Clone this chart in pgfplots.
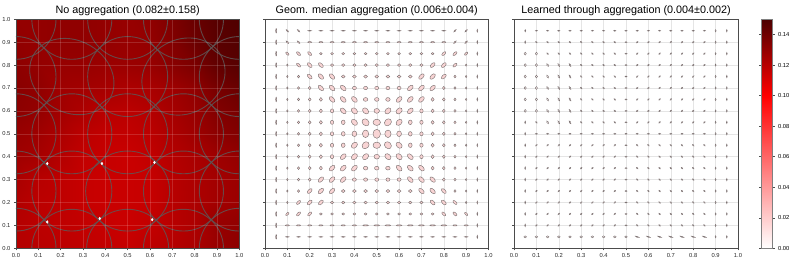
\documentclass[border=0pt]{standalone}
\usepackage{fontspec}
\setmainfont{Liberation Sans}
\usepackage{pgfplots}
\pgfplotsset{compat=1.18}
\pgfdeclareplotmark{nothing}{}
\definecolor{fillpink}{RGB}{248,212,212}
\definecolor{elline}{RGB}{125,115,115}
\definecolor{bigline}{RGB}{95,85,85}
\pgfplotsset{
  every axis title/.style={at={(0.5,1)}, anchor=base, yshift=6pt, inner sep=0pt, font=\fontsize{10.8}{12}\selectfont},
  panel/.style={
    scale only axis, width=223.5pt, height=229pt, anchor=south west,
    xmin=0, xmax=1, ymin=0, ymax=1, enlargelimits=false,
    xtick={0,0.1,0.2,0.3,0.4,0.5,0.6,0.7,0.8,0.9,1},
    ytick={0,0.1,0.2,0.3,0.4,0.5,0.6,0.7,0.8,0.9,1},
    xticklabels={0.0,0.1,0.2,0.3,0.4,0.5,0.6,0.7,0.8,0.9,1.0},
    grid=major, tick pos=left,
    tick align=outside, major tick length=2pt,
    axis line style={black!70, line width=0.6pt},
    every tick/.style={black!70, line width=0.5pt},
    tick label style={font=\fontsize{5.8}{6}\selectfont, text=black!85},
    colormap={wr}{rgb(0cm)=(1,1,1); rgb(10cm)=(1,0,0); rgb(15cm)=(0.3,0,0)},
    point meta min=0, point meta max=0.15,
  },
  ell/.style={only marks, scatter, mark=nothing,
    visualization depends on={value \thisrow{a}\as\ea},
    visualization depends on={value \thisrow{b}\as\eb},
    visualization depends on={value \thisrow{t}\as\et},
    scatter/@pre marker code/.code={\pgfscope\pgftransformrotate{\et}\pgfpathellipse{\pgfpointorigin}{\pgfpoint{\ellscale*\ea pt}{0pt}}{\pgfpoint{0pt}{\ellscale*\eb pt}}\ellpaint\endpgfscope},
    scatter/@post marker code/.code={},
  },
}
\begin{document}
\begin{tikzpicture}[x=1pt,y=1pt]
\path[use as bounding box] (0,0) rectangle (790,261);
\def\ellscale{1}
\def\ellpaint{\pgfsetstrokecolor{bigline}\pgfsetstrokeopacity{0.85}\pgfsetlinewidth{0.9pt}\pgfusepath{stroke}}
\begin{axis}[panel, at={(16pt,12.7pt)}, width=223.3pt,
  title={No aggregation (0.082±0.158)}, axis on top, clip marker paths=true,
  grid style={white, opacity=0.15, line width=0.5pt},
  yticklabels={0.0,0.1,0.2,0.3,0.4,0.5,0.6,0.7,0.8,0.9,1.0}]
\addplot[surf, shader=interp, mesh/cols=11, point meta=explicit] table[row sep=\\, meta=c] {
x y c\\
0 0 0.121\\ 0.1 0 0.120\\ 0.2 0 0.119\\ 0.3 0 0.118\\ 0.4 0 0.117\\ 0.5 0 0.116\\ 0.6 0 0.119\\ 0.7 0 0.121\\ 0.8 0 0.124\\ 0.9 0 0.129\\ 1 0 0.132\\
0 0.1 0.121\\ 0.1 0.1 0.119\\ 0.2 0.1 0.118\\ 0.3 0.1 0.117\\ 0.4 0.1 0.116\\ 0.5 0.1 0.115\\ 0.6 0.1 0.117\\ 0.7 0.1 0.120\\ 0.8 0.1 0.123\\ 0.9 0.1 0.129\\ 1 0.1 0.131\\
0 0.2 0.122\\ 0.1 0.2 0.119\\ 0.2 0.2 0.118\\ 0.3 0.2 0.116\\ 0.4 0.2 0.115\\ 0.5 0.2 0.115\\ 0.6 0.2 0.116\\ 0.7 0.2 0.120\\ 0.8 0.2 0.123\\ 0.9 0.2 0.126\\ 1 0.2 0.128\\
0 0.3 0.124\\ 0.1 0.3 0.120\\ 0.2 0.3 0.118\\ 0.3 0.3 0.116\\ 0.4 0.3 0.115\\ 0.5 0.3 0.115\\ 0.6 0.3 0.116\\ 0.7 0.3 0.120\\ 0.8 0.3 0.123\\ 0.9 0.3 0.126\\ 1 0.3 0.128\\
0 0.4 0.127\\ 0.1 0.4 0.125\\ 0.2 0.4 0.121\\ 0.3 0.4 0.117\\ 0.4 0.4 0.116\\ 0.5 0.4 0.115\\ 0.6 0.4 0.117\\ 0.7 0.4 0.121\\ 0.8 0.4 0.124\\ 0.9 0.4 0.127\\ 1 0.4 0.130\\
0 0.5 0.129\\ 0.1 0.5 0.127\\ 0.2 0.5 0.123\\ 0.3 0.5 0.119\\ 0.4 0.5 0.117\\ 0.5 0.5 0.117\\ 0.6 0.5 0.119\\ 0.7 0.5 0.123\\ 0.8 0.5 0.127\\ 0.9 0.5 0.132\\ 1 0.5 0.135\\
0 0.6 0.132\\ 0.1 0.6 0.130\\ 0.2 0.6 0.126\\ 0.3 0.6 0.123\\ 0.4 0.6 0.120\\ 0.5 0.6 0.119\\ 0.6 0.6 0.121\\ 0.7 0.6 0.125\\ 0.8 0.6 0.129\\ 0.9 0.6 0.135\\ 1 0.6 0.138\\
0 0.7 0.133\\ 0.1 0.7 0.131\\ 0.2 0.7 0.127\\ 0.3 0.7 0.126\\ 0.4 0.7 0.125\\ 0.5 0.7 0.123\\ 0.6 0.7 0.124\\ 0.7 0.7 0.127\\ 0.8 0.7 0.131\\ 0.9 0.7 0.138\\ 1 0.7 0.142\\
0 0.8 0.132\\ 0.1 0.8 0.130\\ 0.2 0.8 0.129\\ 0.3 0.8 0.129\\ 0.4 0.8 0.128\\ 0.5 0.8 0.128\\ 0.6 0.8 0.129\\ 0.7 0.8 0.133\\ 0.8 0.8 0.137\\ 0.9 0.8 0.144\\ 1 0.8 0.147\\
0 0.9 0.131\\ 0.1 0.9 0.130\\ 0.2 0.9 0.131\\ 0.3 0.9 0.131\\ 0.4 0.9 0.130\\ 0.5 0.9 0.129\\ 0.6 0.9 0.130\\ 0.7 0.9 0.135\\ 0.8 0.9 0.141\\ 0.9 0.9 0.146\\ 1 0.9 0.148\\
0 1 0.130\\ 0.1 1 0.130\\ 0.2 1 0.131\\ 0.3 1 0.131\\ 0.4 1 0.130\\ 0.5 1 0.129\\ 0.6 1 0.131\\ 0.7 1 0.136\\ 0.8 1 0.142\\ 0.9 1 0.147\\ 1 1 0.149\\
};
\addplot[ell] table[row sep=\\] {
x y a b t\\
0 0 40 40 0\\ 0.25 0 40 39 0\\ 0.5 0 41 39 0\\ 0.75 0 40 39 0\\ 1 0 40 40 0\\
0 0.25 40 40 0\\ 0.25 0.25 40 40 0\\ 0.5 0.25 42 40 0\\ 0.75 0.25 40 40 0\\ 1 0.25 40 40 0\\
0 0.5 40 40 0\\ 0.25 0.5 40 40 0\\ 0.5 0.5 40 40 0\\ 0.75 0.5 40 40 0\\ 1 0.5 40 40 0\\
0 0.75 40 40 0\\ 0.25 0.75 44 36 -30\\ 0.5 0.75 40 40 0\\ 0.75 0.75 43 37 30\\ 1 0.75 40 40 0\\
0 1 40 40 0\\ 0.25 1 40 40 0\\ 0.5 1 40 40 0\\ 0.75 1 40 40 0\\ 1 1 40 40 0\\
};
\addplot[only marks, mark=diamond*, mark size=1.3pt, white] coordinates {(0.14,0.37) (0.385,0.37) (0.62,0.375) (0.375,0.13) (0.14,0.115) (0.61,0.125)};
\end{axis}
\def\ellscale{1.25}
\def\ellpaint{\pgfsetfillcolor{fillpink}\pgfsetstrokecolor{elline}\pgfsetlinewidth{0.45pt}\pgfusepath{fill,stroke}}
\begin{axis}[panel, at={(265pt,12.7pt)}, title={Geom. median aggregation (0.006±0.004)},
  grid style={black!10, line width=0.5pt}, yticklabels={}]
\addplot[ell] table[row sep=\\] {
x y a b t\\
0.05 0.95 1.8 0.4 90\\ 0.10 0.95 1.3 0.5 -45\\ 0.15 0.95 1.3 0.5 -45\\ 0.20 0.95 1.4 0.4 0\\ 0.25 0.95 1.4 0.4 0\\ 0.30 0.95 1.4 0.4 0\\ 0.35 0.95 1.4 0.4 0\\ 0.40 0.95 1.4 0.4 0\\ 0.45 0.95 1.4 0.4 0\\ 0.50 0.95 1.4 0.4 0\\ 0.55 0.95 1.4 0.4 0\\ 0.60 0.95 1.4 0.4 0\\ 0.65 0.95 1.4 0.4 0\\ 0.70 0.95 1.4 0.4 0\\ 0.75 0.95 1.4 0.4 0\\ 0.80 0.95 1.4 0.4 0\\ 0.85 0.95 1.3 0.5 45\\ 0.90 0.95 1.3 0.5 45\\ 0.95 0.95 1.2 0.4 90\\
0.05 0.90 1.8 0.4 90\\ 0.10 0.90 1.4 0.6 -45\\ 0.15 0.90 1.4 0.6 -45\\ 0.20 0.90 1.6 0.5 0\\ 0.25 0.90 1.6 0.5 0\\ 0.30 0.90 1.6 0.5 0\\ 0.35 0.90 1.6 0.5 0\\ 0.40 0.90 1.6 0.5 0\\ 0.45 0.90 1.6 0.5 0\\ 0.50 0.90 1.6 0.5 0\\ 0.55 0.90 1.6 0.5 0\\ 0.60 0.90 1.6 0.5 0\\ 0.65 0.90 1.6 0.5 0\\ 0.70 0.90 1.6 0.5 0\\ 0.75 0.90 1.6 0.5 0\\ 0.80 0.90 1.6 0.5 0\\ 0.85 0.90 1.4 0.6 45\\ 0.90 0.90 1.4 0.6 45\\ 0.95 0.90 1.2 0.4 90\\
0.05 0.85 1.8 0.4 90\\ 0.10 0.85 1.6 0.8 -45\\ 0.15 0.85 2.0 1.0 -45\\ 0.20 0.85 2.0 1.0 -45\\ 0.25 0.85 1.1 0.9 0\\ 0.30 0.85 1.1 0.9 0\\ 0.35 0.85 1.1 0.9 0\\ 0.40 0.85 1.1 0.9 0\\ 0.45 0.85 1.1 0.9 0\\ 0.50 0.85 1.1 0.9 0\\ 0.55 0.85 1.1 0.9 0\\ 0.60 0.85 1.1 0.9 0\\ 0.65 0.85 1.1 0.9 0\\ 0.70 0.85 1.1 0.9 0\\ 0.75 0.85 1.1 0.9 0\\ 0.80 0.85 2.0 1.0 45\\ 0.85 0.85 2.0 1.0 45\\ 0.90 0.85 1.6 0.8 45\\ 0.95 0.85 1.2 0.4 90\\
0.05 0.80 1.8 0.4 90\\ 0.10 0.80 0.9 0.6 90\\ 0.15 0.80 2.0 1.0 -45\\ 0.20 0.80 2.4 1.3 -45\\ 0.25 0.80 2.4 1.3 -45\\ 0.30 0.80 1.3 1.1 0\\ 0.35 0.80 1.3 1.1 0\\ 0.40 0.80 1.3 1.1 0\\ 0.45 0.80 1.3 1.1 0\\ 0.50 0.80 1.3 1.1 0\\ 0.55 0.80 1.3 1.1 0\\ 0.60 0.80 1.3 1.1 0\\ 0.65 0.80 1.3 1.1 0\\ 0.70 0.80 1.3 1.1 0\\ 0.75 0.80 2.4 1.3 45\\ 0.80 0.80 2.4 1.3 45\\ 0.85 0.80 2.0 1.0 45\\ 0.90 0.80 0.9 0.6 90\\ 0.95 0.80 1.2 0.4 90\\
0.05 0.75 1.8 0.4 90\\ 0.10 0.75 0.9 0.6 90\\ 0.15 0.75 1.1 0.9 90\\ 0.20 0.75 2.4 1.3 -45\\ 0.25 0.75 2.7 1.5 -45\\ 0.30 0.75 2.7 1.5 -45\\ 0.35 0.75 1.5 1.25 0\\ 0.40 0.75 1.5 1.25 0\\ 0.45 0.75 1.5 1.25 0\\ 0.50 0.75 1.5 1.25 0\\ 0.55 0.75 1.5 1.25 0\\ 0.60 0.75 1.5 1.25 0\\ 0.65 0.75 1.5 1.25 0\\ 0.70 0.75 2.7 1.5 45\\ 0.75 0.75 2.7 1.5 45\\ 0.80 0.75 2.4 1.3 45\\ 0.85 0.75 1.1 0.9 90\\ 0.90 0.75 0.9 0.6 90\\ 0.95 0.75 1.2 0.4 90\\
0.05 0.70 1.8 0.4 90\\ 0.10 0.70 0.9 0.6 90\\ 0.15 0.70 1.1 0.9 90\\ 0.20 0.70 1.3 1.1 90\\ 0.25 0.70 2.7 1.5 -45\\ 0.30 0.70 2.8 1.6 -45\\ 0.35 0.70 2.8 1.6 -45\\ 0.40 0.70 1.6 1.35 0\\ 0.45 0.70 1.6 1.35 0\\ 0.50 0.70 1.6 1.35 0\\ 0.55 0.70 1.6 1.35 0\\ 0.60 0.70 1.6 1.35 0\\ 0.65 0.70 2.8 1.6 45\\ 0.70 0.70 2.8 1.6 45\\ 0.75 0.70 2.7 1.5 45\\ 0.80 0.70 1.3 1.1 90\\ 0.85 0.70 1.1 0.9 90\\ 0.90 0.70 0.9 0.6 90\\ 0.95 0.70 1.2 0.4 90\\
0.05 0.65 1.8 0.4 90\\ 0.10 0.65 0.9 0.6 90\\ 0.15 0.65 1.1 0.9 90\\ 0.20 0.65 1.3 1.1 90\\ 0.25 0.65 1.5 1.25 90\\ 0.30 0.65 2.8 1.6 -45\\ 0.35 0.65 2.8 1.7 -45\\ 0.40 0.65 2.8 1.7 -45\\ 0.45 0.65 1.8 1.5 0\\ 0.50 0.65 1.8 1.5 0\\ 0.55 0.65 1.8 1.5 0\\ 0.60 0.65 2.8 1.7 45\\ 0.65 0.65 2.8 1.7 45\\ 0.70 0.65 2.8 1.6 45\\ 0.75 0.65 1.5 1.25 90\\ 0.80 0.65 1.3 1.1 90\\ 0.85 0.65 1.1 0.9 90\\ 0.90 0.65 0.9 0.6 90\\ 0.95 0.65 1.2 0.4 90\\
0.05 0.60 1.8 0.4 90\\ 0.10 0.60 0.9 0.6 90\\ 0.15 0.60 1.1 0.9 90\\ 0.20 0.60 1.3 1.1 90\\ 0.25 0.60 1.5 1.25 90\\ 0.30 0.60 1.6 1.35 90\\ 0.35 0.60 2.8 1.7 -45\\ 0.40 0.60 2.8 2.0 -45\\ 0.45 0.60 2.8 2.0 -45\\ 0.50 0.60 2.2 1.9 0\\ 0.55 0.60 2.8 2.0 45\\ 0.60 0.60 2.8 2.0 45\\ 0.65 0.60 2.8 1.7 45\\ 0.70 0.60 1.6 1.35 90\\ 0.75 0.60 1.5 1.25 90\\ 0.80 0.60 1.3 1.1 90\\ 0.85 0.60 1.1 0.9 90\\ 0.90 0.60 0.9 0.6 90\\ 0.95 0.60 1.2 0.4 90\\
0.05 0.55 1.8 0.4 90\\ 0.10 0.55 0.9 0.6 90\\ 0.15 0.55 1.1 0.9 90\\ 0.20 0.55 1.3 1.1 90\\ 0.25 0.55 1.5 1.25 90\\ 0.30 0.55 1.6 1.35 90\\ 0.35 0.55 1.8 1.5 90\\ 0.40 0.55 2.8 2.0 -45\\ 0.45 0.55 3.1 2.5 -45\\ 0.50 0.55 3.0 2.5 0\\ 0.55 0.55 3.1 2.5 45\\ 0.60 0.55 2.8 2.0 45\\ 0.65 0.55 1.8 1.5 90\\ 0.70 0.55 1.6 1.35 90\\ 0.75 0.55 1.5 1.25 90\\ 0.80 0.55 1.3 1.1 90\\ 0.85 0.55 1.1 0.9 90\\ 0.90 0.55 0.9 0.6 90\\ 0.95 0.55 1.2 0.4 90\\
0.05 0.50 1.8 0.4 90\\ 0.10 0.50 0.9 0.6 90\\ 0.15 0.50 1.1 0.9 90\\ 0.20 0.50 1.3 1.1 90\\ 0.25 0.50 1.5 1.25 90\\ 0.30 0.50 1.6 1.35 90\\ 0.35 0.50 1.8 1.5 90\\ 0.40 0.50 2.2 1.9 90\\ 0.45 0.50 3.0 2.5 90\\ 0.50 0.50 3.6 3.0 90\\ 0.55 0.50 3.0 2.5 90\\ 0.60 0.50 2.2 1.9 90\\ 0.65 0.50 1.8 1.5 90\\ 0.70 0.50 1.6 1.35 90\\ 0.75 0.50 1.5 1.25 90\\ 0.80 0.50 1.3 1.1 90\\ 0.85 0.50 1.1 0.9 90\\ 0.90 0.50 0.9 0.6 90\\ 0.95 0.50 1.2 0.4 90\\
0.05 0.45 1.8 0.4 90\\ 0.10 0.45 0.9 0.6 90\\ 0.15 0.45 1.1 0.9 90\\ 0.20 0.45 1.3 1.1 90\\ 0.25 0.45 1.5 1.25 90\\ 0.30 0.45 1.6 1.35 90\\ 0.35 0.45 1.8 1.5 90\\ 0.40 0.45 2.8 2.0 45\\ 0.45 0.45 3.1 2.5 45\\ 0.50 0.45 3.0 2.5 0\\ 0.55 0.45 3.1 2.5 -45\\ 0.60 0.45 2.8 2.0 -45\\ 0.65 0.45 1.8 1.5 90\\ 0.70 0.45 1.6 1.35 90\\ 0.75 0.45 1.5 1.25 90\\ 0.80 0.45 1.3 1.1 90\\ 0.85 0.45 1.1 0.9 90\\ 0.90 0.45 0.9 0.6 90\\ 0.95 0.45 1.2 0.4 90\\
0.05 0.40 1.8 0.4 90\\ 0.10 0.40 0.9 0.6 90\\ 0.15 0.40 1.1 0.9 90\\ 0.20 0.40 1.3 1.1 90\\ 0.25 0.40 1.5 1.25 90\\ 0.30 0.40 1.6 1.35 90\\ 0.35 0.40 2.8 1.7 45\\ 0.40 0.40 2.8 2.0 45\\ 0.45 0.40 2.8 2.0 45\\ 0.50 0.40 2.2 1.9 0\\ 0.55 0.40 2.8 2.0 -45\\ 0.60 0.40 2.8 2.0 -45\\ 0.65 0.40 2.8 1.7 -45\\ 0.70 0.40 1.6 1.35 90\\ 0.75 0.40 1.5 1.25 90\\ 0.80 0.40 1.3 1.1 90\\ 0.85 0.40 1.1 0.9 90\\ 0.90 0.40 0.9 0.6 90\\ 0.95 0.40 1.2 0.4 90\\
0.05 0.35 1.8 0.4 90\\ 0.10 0.35 0.9 0.6 90\\ 0.15 0.35 1.1 0.9 90\\ 0.20 0.35 1.3 1.1 90\\ 0.25 0.35 1.5 1.25 90\\ 0.30 0.35 2.8 1.6 45\\ 0.35 0.35 2.8 1.7 45\\ 0.40 0.35 2.8 1.7 45\\ 0.45 0.35 1.8 1.5 0\\ 0.50 0.35 1.8 1.5 0\\ 0.55 0.35 1.8 1.5 0\\ 0.60 0.35 2.8 1.7 -45\\ 0.65 0.35 2.8 1.7 -45\\ 0.70 0.35 2.8 1.6 -45\\ 0.75 0.35 1.5 1.25 90\\ 0.80 0.35 1.3 1.1 90\\ 0.85 0.35 1.1 0.9 90\\ 0.90 0.35 0.9 0.6 90\\ 0.95 0.35 1.2 0.4 90\\
0.05 0.30 1.8 0.4 90\\ 0.10 0.30 0.9 0.6 90\\ 0.15 0.30 1.1 0.9 90\\ 0.20 0.30 1.3 1.1 90\\ 0.25 0.30 2.7 1.5 45\\ 0.30 0.30 2.8 1.6 45\\ 0.35 0.30 2.8 1.6 45\\ 0.40 0.30 1.6 1.35 0\\ 0.45 0.30 1.6 1.35 0\\ 0.50 0.30 1.6 1.35 0\\ 0.55 0.30 1.6 1.35 0\\ 0.60 0.30 1.6 1.35 0\\ 0.65 0.30 2.8 1.6 -45\\ 0.70 0.30 2.8 1.6 -45\\ 0.75 0.30 2.7 1.5 -45\\ 0.80 0.30 1.3 1.1 90\\ 0.85 0.30 1.1 0.9 90\\ 0.90 0.30 0.9 0.6 90\\ 0.95 0.30 1.2 0.4 90\\
0.05 0.25 1.8 0.4 90\\ 0.10 0.25 0.9 0.6 90\\ 0.15 0.25 1.1 0.9 90\\ 0.20 0.25 2.4 1.3 45\\ 0.25 0.25 2.7 1.5 45\\ 0.30 0.25 2.7 1.5 45\\ 0.35 0.25 1.5 1.25 0\\ 0.40 0.25 1.5 1.25 0\\ 0.45 0.25 1.5 1.25 0\\ 0.50 0.25 1.5 1.25 0\\ 0.55 0.25 1.5 1.25 0\\ 0.60 0.25 1.5 1.25 0\\ 0.65 0.25 1.5 1.25 0\\ 0.70 0.25 2.7 1.5 -45\\ 0.75 0.25 2.7 1.5 -45\\ 0.80 0.25 2.4 1.3 -45\\ 0.85 0.25 1.1 0.9 90\\ 0.90 0.25 0.9 0.6 90\\ 0.95 0.25 1.2 0.4 90\\
0.05 0.20 1.8 0.4 90\\ 0.10 0.20 0.9 0.6 90\\ 0.15 0.20 2.0 1.0 45\\ 0.20 0.20 2.4 1.3 45\\ 0.25 0.20 2.4 1.3 45\\ 0.30 0.20 1.3 1.1 0\\ 0.35 0.20 1.3 1.1 0\\ 0.40 0.20 1.3 1.1 0\\ 0.45 0.20 1.3 1.1 0\\ 0.50 0.20 1.3 1.1 0\\ 0.55 0.20 1.3 1.1 0\\ 0.60 0.20 1.3 1.1 0\\ 0.65 0.20 1.3 1.1 0\\ 0.70 0.20 1.3 1.1 0\\ 0.75 0.20 2.4 1.3 -45\\ 0.80 0.20 2.4 1.3 -45\\ 0.85 0.20 2.0 1.0 -45\\ 0.90 0.20 0.9 0.6 90\\ 0.95 0.20 1.2 0.4 90\\
0.05 0.15 1.8 0.4 90\\ 0.10 0.15 1.6 0.8 45\\ 0.15 0.15 2.0 1.0 45\\ 0.20 0.15 2.0 1.0 45\\ 0.25 0.15 1.1 0.9 0\\ 0.30 0.15 1.1 0.9 0\\ 0.35 0.15 1.1 0.9 0\\ 0.40 0.15 1.1 0.9 0\\ 0.45 0.15 1.1 0.9 0\\ 0.50 0.15 1.1 0.9 0\\ 0.55 0.15 1.1 0.9 0\\ 0.60 0.15 1.1 0.9 0\\ 0.65 0.15 1.1 0.9 0\\ 0.70 0.15 1.1 0.9 0\\ 0.75 0.15 1.1 0.9 0\\ 0.80 0.15 2.0 1.0 -45\\ 0.85 0.15 2.0 1.0 -45\\ 0.90 0.15 1.6 0.8 -45\\ 0.95 0.15 1.2 0.4 90\\
0.05 0.10 1.8 0.4 90\\ 0.10 0.10 1.6 0.5 0\\ 0.15 0.10 1.6 0.5 0\\ 0.20 0.10 1.6 0.5 0\\ 0.25 0.10 1.6 0.5 0\\ 0.30 0.10 1.6 0.5 0\\ 0.35 0.10 1.6 0.5 0\\ 0.40 0.10 1.6 0.5 0\\ 0.45 0.10 2.2 0.5 0\\ 0.50 0.10 2.2 0.5 0\\ 0.55 0.10 2.2 0.5 0\\ 0.60 0.10 2.2 0.5 0\\ 0.65 0.10 2.2 0.5 0\\ 0.70 0.10 2.2 0.5 0\\ 0.75 0.10 2.2 0.5 0\\ 0.80 0.10 2.2 0.5 0\\ 0.85 0.10 1.6 0.5 0\\ 0.90 0.10 1.6 0.5 0\\ 0.95 0.10 1.2 0.4 90\\
0.05 0.05 1.8 0.4 90\\ 0.10 0.05 1.4 0.4 0\\ 0.15 0.05 1.4 0.4 0\\ 0.20 0.05 1.4 0.4 0\\ 0.25 0.05 1.4 0.4 0\\ 0.30 0.05 1.4 0.4 0\\ 0.35 0.05 1.4 0.4 0\\ 0.40 0.05 1.4 0.4 0\\ 0.45 0.05 1.4 0.4 0\\ 0.50 0.05 1.4 0.4 0\\ 0.55 0.05 1.4 0.4 0\\ 0.60 0.05 1.4 0.4 0\\ 0.65 0.05 1.4 0.4 0\\ 0.70 0.05 1.4 0.4 0\\ 0.75 0.05 1.4 0.4 0\\ 0.80 0.05 1.4 0.4 0\\ 0.85 0.05 1.4 0.4 0\\ 0.90 0.05 1.4 0.4 0\\ 0.95 0.05 1.2 0.4 90\\
};
\end{axis}
\def\ellscale{1.1}
\def\ellpaint{\pgfsetfillcolor{red!4}\pgfsetstrokecolor{elline}\pgfsetlinewidth{0.45pt}\pgfusepath{fill,stroke}}
\begin{axis}[panel, at={(514pt,12.7pt)}, width=224pt, title={Learned through aggregation (0.004±0.002)},
  grid style={black!10, line width=0.5pt}, yticklabels={},
  colorbar,
  colorbar style={at={(parent axis.south east)}, anchor=south west, xshift=14.7pt,
    width=11.3pt, height=229pt, scale only axis,
    ytick={0,0.02,0.04,0.06,0.08,0.1,0.12,0.14},
    yticklabels={0.00,0.02,0.04,0.06,0.08,0.10,0.12,0.14},
    yticklabel pos=right, tick align=outside, major tick length=2pt,
    axis line style={black!50}, xmajorgrids=false, ymajorgrids=false,
    tick label style={font=\fontsize{5.8}{6}\selectfont}}]
\addplot[ell] table[row sep=\\] {
x y a b t\\
0.05 0.95 1.0 0.5 90\\ 0.10 0.95 1.0 0.5 0\\ 0.15 0.95 1.0 0.5 0\\ 0.20 0.95 1.0 0.5 0\\ 0.25 0.95 1.0 0.5 0\\ 0.30 0.95 1.0 0.5 0\\ 0.35 0.95 1.0 0.5 0\\ 0.40 0.95 1.0 0.5 0\\ 0.45 0.95 1.0 0.5 0\\ 0.50 0.95 1.0 0.5 0\\ 0.55 0.95 1.0 0.5 0\\ 0.60 0.95 1.0 0.5 0\\ 0.65 0.95 1.0 0.5 0\\ 0.70 0.95 1.0 0.5 0\\ 0.75 0.95 1.0 0.5 0\\ 0.80 0.95 1.0 0.5 0\\ 0.85 0.95 1.0 0.5 0\\ 0.90 0.95 1.0 0.5 90\\ 0.95 0.95 1.1 0.45 90\\
0.05 0.90 1.2 0.5 90\\ 0.10 0.90 0.95 0.55 -45\\ 0.15 0.90 0.95 0.55 -45\\ 0.20 0.90 0.95 0.55 -45\\ 0.25 0.90 0.95 0.55 -45\\ 0.30 0.90 0.95 0.55 -45\\ 0.35 0.90 0.95 0.55 -45\\ 0.40 0.90 0.95 0.55 -45\\ 0.45 0.90 0.95 0.55 -45\\ 0.50 0.90 0.95 0.55 0\\ 0.55 0.90 0.95 0.55 45\\ 0.60 0.90 0.95 0.55 45\\ 0.65 0.90 0.95 0.55 45\\ 0.70 0.90 0.95 0.55 45\\ 0.75 0.90 0.95 0.55 45\\ 0.80 0.90 0.95 0.55 45\\ 0.85 0.90 0.95 0.55 45\\ 0.90 0.90 1.0 0.5 90\\ 0.95 0.90 1.1 0.45 90\\
0.05 0.85 1.3 1.0 90\\ 0.10 0.85 1.3 1.0 90\\ 0.15 0.85 0.95 0.55 -45\\ 0.20 0.85 0.95 0.55 -45\\ 0.25 0.85 0.95 0.55 -45\\ 0.30 0.85 0.95 0.55 -45\\ 0.35 0.85 0.95 0.55 -45\\ 0.40 0.85 0.95 0.55 -45\\ 0.45 0.85 0.95 0.55 -45\\ 0.50 0.85 0.95 0.55 0\\ 0.55 0.85 0.95 0.55 45\\ 0.60 0.85 0.95 0.55 45\\ 0.65 0.85 0.95 0.55 45\\ 0.70 0.85 0.95 0.55 45\\ 0.75 0.85 0.95 0.55 45\\ 0.80 0.85 0.95 0.55 45\\ 0.85 0.85 0.95 0.55 45\\ 0.90 0.85 1.0 0.5 90\\ 0.95 0.85 1.1 0.45 90\\
0.05 0.80 1.3 1.0 90\\ 0.10 0.80 1.3 1.0 90\\ 0.15 0.80 1.5 0.7 -60\\ 0.20 0.80 1.5 0.7 -60\\ 0.25 0.80 1.5 0.7 -60\\ 0.30 0.80 0.95 0.55 -45\\ 0.35 0.80 0.95 0.55 -45\\ 0.40 0.80 0.95 0.55 -45\\ 0.45 0.80 0.95 0.55 -45\\ 0.50 0.80 0.95 0.55 0\\ 0.55 0.80 0.95 0.55 45\\ 0.60 0.80 0.95 0.55 45\\ 0.65 0.80 0.95 0.55 45\\ 0.70 0.80 0.95 0.55 45\\ 0.75 0.80 0.95 0.55 45\\ 0.80 0.80 0.95 0.55 45\\ 0.85 0.80 0.95 0.55 45\\ 0.90 0.80 1.0 0.5 90\\ 0.95 0.80 1.1 0.45 90\\
0.05 0.75 1.3 1.0 90\\ 0.10 0.75 1.3 1.0 90\\ 0.15 0.75 1.5 0.7 -60\\ 0.20 0.75 1.5 0.7 -60\\ 0.25 0.75 1.5 0.7 -60\\ 0.30 0.75 0.95 0.55 -45\\ 0.35 0.75 0.95 0.55 -45\\ 0.40 0.75 0.95 0.55 -45\\ 0.45 0.75 0.95 0.55 -45\\ 0.50 0.75 0.95 0.55 0\\ 0.55 0.75 0.95 0.55 45\\ 0.60 0.75 0.95 0.55 45\\ 0.65 0.75 0.95 0.55 45\\ 0.70 0.75 0.95 0.55 45\\ 0.75 0.75 0.95 0.55 45\\ 0.80 0.75 0.95 0.55 45\\ 0.85 0.75 0.95 0.55 45\\ 0.90 0.75 1.0 0.5 90\\ 0.95 0.75 1.1 0.45 90\\
0.05 0.70 1.3 1.0 90\\ 0.10 0.70 1.3 1.0 90\\ 0.15 0.70 1.5 0.7 -60\\ 0.20 0.70 1.5 0.7 -60\\ 0.25 0.70 1.5 0.7 -60\\ 0.30 0.70 0.95 0.55 -45\\ 0.35 0.70 0.95 0.55 -45\\ 0.40 0.70 0.95 0.55 -45\\ 0.45 0.70 0.95 0.55 -45\\ 0.50 0.70 0.95 0.55 0\\ 0.55 0.70 0.95 0.55 45\\ 0.60 0.70 0.95 0.55 45\\ 0.65 0.70 0.95 0.55 45\\ 0.70 0.70 0.95 0.55 45\\ 0.75 0.70 0.95 0.55 45\\ 0.80 0.70 0.95 0.55 45\\ 0.85 0.70 0.95 0.55 45\\ 0.90 0.70 1.0 0.5 90\\ 0.95 0.70 1.1 0.45 90\\
0.05 0.65 1.3 1.0 90\\ 0.10 0.65 1.3 1.0 90\\ 0.15 0.65 1.5 0.7 -60\\ 0.20 0.65 1.5 0.7 -60\\ 0.25 0.65 1.5 0.7 -60\\ 0.30 0.65 0.95 0.55 -45\\ 0.35 0.65 0.95 0.55 -45\\ 0.40 0.65 0.95 0.55 -45\\ 0.45 0.65 0.95 0.55 -45\\ 0.50 0.65 0.95 0.55 0\\ 0.55 0.65 0.95 0.55 45\\ 0.60 0.65 0.95 0.55 45\\ 0.65 0.65 0.95 0.55 45\\ 0.70 0.65 0.95 0.55 45\\ 0.75 0.65 0.95 0.55 45\\ 0.80 0.65 0.95 0.55 45\\ 0.85 0.65 0.95 0.55 45\\ 0.90 0.65 1.0 0.5 90\\ 0.95 0.65 1.1 0.45 90\\
0.05 0.60 1.3 1.0 90\\ 0.10 0.60 1.3 1.0 90\\ 0.15 0.60 1.5 0.7 -60\\ 0.20 0.60 1.5 0.7 -60\\ 0.25 0.60 1.5 0.7 -60\\ 0.30 0.60 0.95 0.55 -45\\ 0.35 0.60 0.95 0.55 -45\\ 0.40 0.60 0.95 0.55 -45\\ 0.45 0.60 0.95 0.55 -45\\ 0.50 0.60 0.95 0.55 0\\ 0.55 0.60 0.95 0.55 45\\ 0.60 0.60 0.95 0.55 45\\ 0.65 0.60 0.95 0.55 45\\ 0.70 0.60 0.95 0.55 45\\ 0.75 0.60 0.95 0.55 45\\ 0.80 0.60 0.95 0.55 45\\ 0.85 0.60 0.95 0.55 45\\ 0.90 0.60 1.0 0.5 90\\ 0.95 0.60 1.1 0.45 90\\
0.05 0.55 1.2 0.5 90\\ 0.10 0.55 0.95 0.55 -45\\ 0.15 0.55 1.5 0.7 -60\\ 0.20 0.55 1.5 0.7 -60\\ 0.25 0.55 1.5 0.7 -60\\ 0.30 0.55 0.95 0.55 -45\\ 0.35 0.55 0.95 0.55 -45\\ 0.40 0.55 0.95 0.55 -45\\ 0.45 0.55 0.95 0.55 -45\\ 0.50 0.55 0.95 0.55 0\\ 0.55 0.55 0.95 0.55 45\\ 0.60 0.55 0.95 0.55 45\\ 0.65 0.55 0.95 0.55 45\\ 0.70 0.55 0.95 0.55 45\\ 0.75 0.55 0.95 0.55 45\\ 0.80 0.55 0.95 0.55 45\\ 0.85 0.55 0.95 0.55 45\\ 0.90 0.55 1.0 0.5 90\\ 0.95 0.55 1.1 0.45 90\\
0.05 0.50 1.2 0.5 90\\ 0.10 0.50 0.95 0.55 0\\ 0.15 0.50 0.95 0.55 0\\ 0.20 0.50 0.95 0.55 0\\ 0.25 0.50 0.95 0.55 0\\ 0.30 0.50 0.95 0.55 0\\ 0.35 0.50 0.95 0.55 0\\ 0.40 0.50 0.95 0.55 0\\ 0.45 0.50 0.95 0.55 0\\ 0.50 0.50 0.95 0.55 0\\ 0.55 0.50 0.95 0.55 0\\ 0.60 0.50 0.95 0.55 0\\ 0.65 0.50 0.95 0.55 0\\ 0.70 0.50 0.95 0.55 0\\ 0.75 0.50 0.95 0.55 0\\ 0.80 0.50 0.95 0.55 0\\ 0.85 0.50 0.95 0.55 0\\ 0.90 0.50 1.0 0.5 90\\ 0.95 0.50 1.1 0.45 90\\
0.05 0.45 1.2 0.5 90\\ 0.10 0.45 0.95 0.55 45\\ 0.15 0.45 0.95 0.55 45\\ 0.20 0.45 0.95 0.55 45\\ 0.25 0.45 0.95 0.55 45\\ 0.30 0.45 0.95 0.55 45\\ 0.35 0.45 0.95 0.55 45\\ 0.40 0.45 0.95 0.55 45\\ 0.45 0.45 0.95 0.55 45\\ 0.50 0.45 0.95 0.55 0\\ 0.55 0.45 0.95 0.55 -45\\ 0.60 0.45 0.95 0.55 -45\\ 0.65 0.45 0.95 0.55 -45\\ 0.70 0.45 0.95 0.55 -45\\ 0.75 0.45 0.95 0.55 -45\\ 0.80 0.45 0.95 0.55 -45\\ 0.85 0.45 0.95 0.55 -45\\ 0.90 0.45 1.0 0.5 90\\ 0.95 0.45 1.1 0.45 90\\
0.05 0.40 1.2 0.5 90\\ 0.10 0.40 0.95 0.55 45\\ 0.15 0.40 0.95 0.55 45\\ 0.20 0.40 0.95 0.55 45\\ 0.25 0.40 0.95 0.55 45\\ 0.30 0.40 0.95 0.55 45\\ 0.35 0.40 0.95 0.55 45\\ 0.40 0.40 0.95 0.55 45\\ 0.45 0.40 0.95 0.55 45\\ 0.50 0.40 0.95 0.55 0\\ 0.55 0.40 0.95 0.55 -45\\ 0.60 0.40 0.95 0.55 -45\\ 0.65 0.40 0.95 0.55 -45\\ 0.70 0.40 0.95 0.55 -45\\ 0.75 0.40 0.95 0.55 -45\\ 0.80 0.40 0.95 0.55 -45\\ 0.85 0.40 0.95 0.55 -45\\ 0.90 0.40 1.0 0.5 90\\ 0.95 0.40 1.1 0.45 90\\
0.05 0.35 1.2 0.5 90\\ 0.10 0.35 0.95 0.55 45\\ 0.15 0.35 0.95 0.55 45\\ 0.20 0.35 0.95 0.55 45\\ 0.25 0.35 0.95 0.55 45\\ 0.30 0.35 0.95 0.55 45\\ 0.35 0.35 0.95 0.55 45\\ 0.40 0.35 0.95 0.55 45\\ 0.45 0.35 0.95 0.55 45\\ 0.50 0.35 0.95 0.55 0\\ 0.55 0.35 0.95 0.55 -45\\ 0.60 0.35 0.95 0.55 -45\\ 0.65 0.35 0.95 0.55 -45\\ 0.70 0.35 0.95 0.55 -45\\ 0.75 0.35 0.95 0.55 -45\\ 0.80 0.35 0.95 0.55 -45\\ 0.85 0.35 0.95 0.55 -45\\ 0.90 0.35 1.0 0.5 90\\ 0.95 0.35 1.1 0.45 90\\
0.05 0.30 1.2 0.5 90\\ 0.10 0.30 0.95 0.55 45\\ 0.15 0.30 0.95 0.55 45\\ 0.20 0.30 0.95 0.55 45\\ 0.25 0.30 0.95 0.55 45\\ 0.30 0.30 0.95 0.55 45\\ 0.35 0.30 0.95 0.55 45\\ 0.40 0.30 0.95 0.55 45\\ 0.45 0.30 0.95 0.55 45\\ 0.50 0.30 0.95 0.55 0\\ 0.55 0.30 0.95 0.55 -45\\ 0.60 0.30 0.95 0.55 -45\\ 0.65 0.30 0.95 0.55 -45\\ 0.70 0.30 0.95 0.55 -45\\ 0.75 0.30 0.95 0.55 -45\\ 0.80 0.30 0.95 0.55 -45\\ 0.85 0.30 0.95 0.55 -45\\ 0.90 0.30 1.0 0.5 90\\ 0.95 0.30 1.1 0.45 90\\
0.05 0.25 1.2 0.5 90\\ 0.10 0.25 0.95 0.55 45\\ 0.15 0.25 0.95 0.55 45\\ 0.20 0.25 0.95 0.55 45\\ 0.25 0.25 0.95 0.55 45\\ 0.30 0.25 0.95 0.55 45\\ 0.35 0.25 0.95 0.55 45\\ 0.40 0.25 0.95 0.55 45\\ 0.45 0.25 0.95 0.55 45\\ 0.50 0.25 0.95 0.55 0\\ 0.55 0.25 0.95 0.55 -45\\ 0.60 0.25 0.95 0.55 -45\\ 0.65 0.25 0.95 0.55 -45\\ 0.70 0.25 0.95 0.55 -45\\ 0.75 0.25 0.95 0.55 -45\\ 0.80 0.25 0.95 0.55 -45\\ 0.85 0.25 0.95 0.55 -45\\ 0.90 0.25 1.0 0.5 90\\ 0.95 0.25 1.1 0.45 90\\
0.05 0.20 1.2 0.5 90\\ 0.10 0.20 0.95 0.55 45\\ 0.15 0.20 0.95 0.55 45\\ 0.20 0.20 0.95 0.55 45\\ 0.25 0.20 0.95 0.55 45\\ 0.30 0.20 0.95 0.55 45\\ 0.35 0.20 0.95 0.55 45\\ 0.40 0.20 0.95 0.55 45\\ 0.45 0.20 0.95 0.55 45\\ 0.50 0.20 0.95 0.55 0\\ 0.55 0.20 0.95 0.55 -45\\ 0.60 0.20 0.95 0.55 -45\\ 0.65 0.20 0.95 0.55 -45\\ 0.70 0.20 0.95 0.55 -45\\ 0.75 0.20 0.95 0.55 -45\\ 0.80 0.20 0.95 0.55 -45\\ 0.85 0.20 0.95 0.55 -45\\ 0.90 0.20 1.0 0.5 90\\ 0.95 0.20 1.1 0.45 90\\
0.05 0.15 1.2 0.5 90\\ 0.10 0.15 0.95 0.55 45\\ 0.15 0.15 0.95 0.55 45\\ 0.20 0.15 0.95 0.55 45\\ 0.25 0.15 0.95 0.55 45\\ 0.30 0.15 0.95 0.55 45\\ 0.35 0.15 0.95 0.55 45\\ 0.40 0.15 0.95 0.55 45\\ 0.45 0.15 0.95 0.55 45\\ 0.50 0.15 0.95 0.55 0\\ 0.55 0.15 0.95 0.55 -45\\ 0.60 0.15 0.95 0.55 -45\\ 0.65 0.15 0.95 0.55 -45\\ 0.70 0.15 0.95 0.55 -45\\ 0.75 0.15 0.95 0.55 -45\\ 0.80 0.15 0.95 0.55 -45\\ 0.85 0.15 0.95 0.55 -45\\ 0.90 0.15 1.0 0.5 90\\ 0.95 0.15 1.1 0.45 90\\
0.05 0.10 1.2 0.5 90\\ 0.10 0.10 0.95 0.55 45\\ 0.15 0.10 0.95 0.55 45\\ 0.20 0.10 0.95 0.55 45\\ 0.25 0.10 0.95 0.55 45\\ 0.30 0.10 0.95 0.55 45\\ 0.35 0.10 0.95 0.55 45\\ 0.40 0.10 0.95 0.55 45\\ 0.45 0.10 0.95 0.55 45\\ 0.50 0.10 0.95 0.55 0\\ 0.55 0.10 0.95 0.55 -45\\ 0.60 0.10 0.95 0.55 -45\\ 0.65 0.10 0.95 0.55 -45\\ 0.70 0.10 0.95 0.55 -45\\ 0.75 0.10 0.95 0.55 -45\\ 0.80 0.10 0.95 0.55 -45\\ 0.85 0.10 0.95 0.55 -45\\ 0.90 0.10 1.0 0.5 90\\ 0.95 0.10 1.1 0.45 90\\
0.05 0.05 1.2 0.9 0\\ 0.10 0.05 1.2 0.9 0\\ 0.15 0.05 1.2 0.9 0\\ 0.20 0.05 1.2 0.9 0\\ 0.25 0.05 1.2 0.9 0\\ 0.30 0.05 1.2 0.9 0\\ 0.35 0.05 1.2 0.9 0\\ 0.40 0.05 1.2 0.9 0\\ 0.45 0.05 1.2 0.9 0\\ 0.50 0.05 1.2 0.9 0\\ 0.55 0.05 1.8 0.5 -20\\ 0.60 0.05 1.8 0.5 -20\\ 0.65 0.05 1.8 0.5 -20\\ 0.70 0.05 1.8 0.5 -20\\ 0.75 0.05 1.8 0.5 -20\\ 0.80 0.05 1.8 0.5 -20\\ 0.85 0.05 1.8 0.5 -20\\ 0.90 0.05 1.0 0.5 90\\ 0.95 0.05 1.1 0.45 90\\
};
\end{axis}
\end{tikzpicture}
\end{document}
